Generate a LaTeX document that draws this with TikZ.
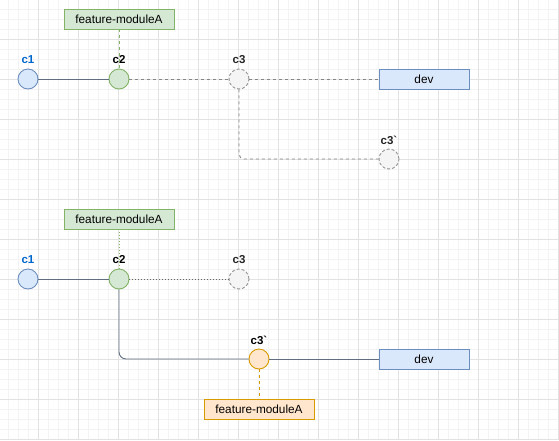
\documentclass[tikz,border=0pt]{standalone}
\usepackage{fontspec}
\setmainfont{Liberation Sans}
\definecolor{gridmin}{HTML}{F3F3F3}
\definecolor{gridmaj}{HTML}{E2E2E2}
\definecolor{bluefill}{HTML}{DAE8FC}
\definecolor{bluedraw}{HTML}{6C8EBF}
\definecolor{greenfill}{HTML}{D5E8D4}
\definecolor{greendraw}{HTML}{82B366}
\definecolor{grayfill}{HTML}{F5F5F5}
\definecolor{graydraw}{HTML}{666666}
\definecolor{orangefill}{HTML}{FFE6CC}
\definecolor{orangedraw}{HTML}{D79B00}
\definecolor{edgecol}{HTML}{5F6E80}
\definecolor{labelblue}{HTML}{0066CC}
\tikzset{
  commit/.style={circle, minimum size=20pt, inner sep=0pt, line width=0.9pt},
  cblue/.style={commit, fill=bluefill, draw=bluedraw},
  cgreen/.style={commit, fill=greenfill, draw=greendraw},
  cgray/.style={commit, fill=grayfill, draw=graydraw!70, dash pattern=on 3pt off 2pt},
  corange/.style={commit, fill=orangefill, draw=orangedraw},
  branchbox/.style={rectangle, minimum width=110pt, minimum height=20pt, inner sep=0pt, line width=0.9pt, font=\fontsize{11.8}{13}\selectfont},
  devbox/.style={rectangle, minimum width=90pt, minimum height=20pt, inner sep=0pt, line width=0.9pt, fill=bluefill, draw=bluedraw, font=\fontsize{11.8}{13}\selectfont},
  clabel/.style={font=\bfseries\fontsize{11.5}{13}\selectfont, inner sep=0pt},
  solidedge/.style={draw=edgecol, line width=0.9pt},
  dashedge/.style={draw=graydraw!80, line width=0.9pt, dash pattern=on 3pt off 3pt},
  dotedge/.style={draw=graydraw, line width=0.9pt, dash pattern=on 1pt off 2pt},
}
\begin{document}
\begin{tikzpicture}[x=1pt,y=-1pt]
\useasboundingbox (0,0) rectangle (559,440);
\fill[white] (0,0) rectangle (559,440);
% grid
\foreach \x in {8,18,...,558} \draw[gridmin, line width=0.6pt] (\x,0) -- (\x,440);
\foreach \y in {9,19,...,439} \draw[gridmin, line width=0.6pt] (0,\y) -- (559,\y);
\foreach \x in {38,78,...,558} \draw[gridmaj, line width=0.7pt] (\x,0) -- (\x,440);
\foreach \y in {39,79,...,439} \draw[gridmaj, line width=0.7pt] (0,\y) -- (559,\y);

% ---------- top ----------
\node[branchbox, fill=greenfill, draw=greendraw] (fa1) at (119,19) {feature-moduleA};
\node[cblue] (a1) at (28,79) {};
\node[cgreen] (a2) at (119,79) {};
\node[cgray] (a3) at (239,79) {};
\node[devbox] (dev1) at (424,79) {dev};
\node[cgray] (a4) at (389,159) {};
\node[clabel, text=labelblue] (la1) at (28,60) {c1};
\node[clabel] (la2) at (119,60) {c2};
\node[clabel, text=black!85] (la3) at (239,60) {c3};
\node[clabel, text=black!85] (la4) at (389,140) {c3\textasciigrave};

\draw[solidedge] (a1) -- (a2);
\draw[dashedge] (a2) -- (a3);
\draw[dashedge] (a3) -- (dev1);
\draw[dashedge, rounded corners=5pt] (a3) |- (a4);
\draw[draw=greendraw, line width=0.9pt, dash pattern=on 3pt off 3pt] (fa1) -- (a2);

% ---------- bottom ----------
\node[branchbox, fill=greenfill, draw=greendraw] (fb1) at (119,219) {feature-moduleA};
\node[cblue] (b1) at (28,279) {};
\node[cgreen] (b2) at (119,279) {};
\node[cgray] (b3) at (239,279) {};
\node[corange] (b4) at (259,359) {};
\node[devbox] (dev2) at (424,359) {dev};
\node[branchbox, fill=orangefill, draw=orangedraw] (fb2) at (259,409) {feature-moduleA};
\node[clabel, text=labelblue] (lb1) at (28,260) {c1};
\node[clabel] (lb2) at (119,260) {c2};
\node[clabel, text=black!85] (lb3) at (239,260) {c3};
\node[clabel] (lb4) at (259,340) {c3\textasciigrave};

\draw[solidedge] (b1) -- (b2);
\draw[dotedge] (b2) -- (b3);
\draw[solidedge, rounded corners=7pt] (b2) |- (b4);
\draw[solidedge] (b4) -- (dev2);
\draw[draw=greendraw, line width=0.9pt, dash pattern=on 1pt off 2pt] (fb1) -- (b2);
\draw[draw=orangedraw, line width=0.9pt, dash pattern=on 3pt off 3pt] (b4) -- (fb2);
\end{tikzpicture}
\end{document}
